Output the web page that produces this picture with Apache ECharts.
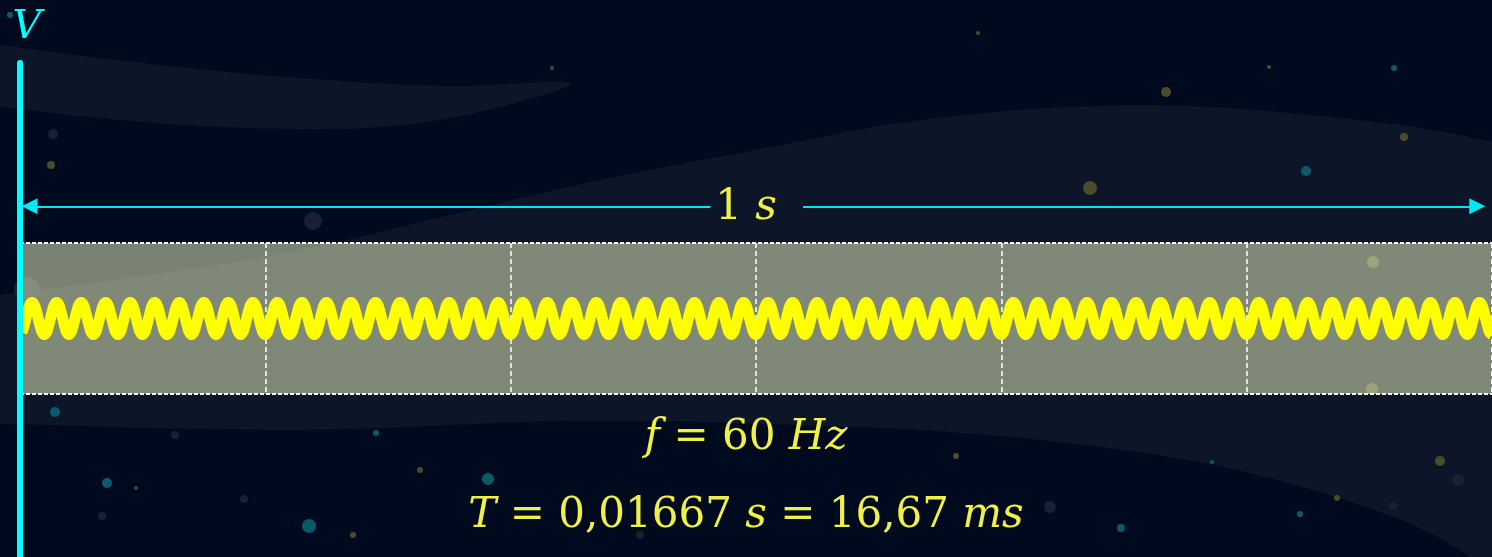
<!DOCTYPE html>
<html>
<head>
<meta charset="utf-8">
<script src="https://cdn.jsdelivr.net/npm/echarts@6.0.0/dist/echarts.min.js"></script>
<style>
  html, body { margin: 0; padding: 0; background: #000a1f; }
  #chart { width: 1492px; height: 557px; }
</style>
</head>
<body>
<div id="chart"></div>
<script>
// signal
const frequency = 60;          // Hz
const duration = 1;            // s shown on the time axis
const divisions = 6;           // dashed columns in the band
const firstCrest = 0.0082;     // s, first crest of the trace
const amplitude = 0.85;        // band runs from -4 to 4
const bandRange = [-4, 4];
// one period of the trace, crest first (12 samples)
const cycleShape = [1, 0.87, 0.5, 0, -0.5, -0.87, -1, -0.87, -0.5, 0, 0.5, 0.87];

// "1 s" arrow, split around its label
const arrowLeft = [0.0065, 0.469];
const arrowRight = [0.532, 0.990];
const arrowLevel = 71;         // % of the V axis height

const labelSpan = "{n|1} {i|s}";
const labelFreq = "{i|f} {n|=} {n|60} {i|Hz}";
const labelPeriod = "{i|T} {n|=} {n|0,01667} {i|s} {n|=} {n|16,67} {i|ms}";

// background decoration
const swooshTop = [[-40, 40], [0, 45], [150, 64], [300, 78], [450, 86], [571, 83],
  [480, 112], [380, 127], [250, 128], [120, 120], [0, 107], [-40, 104]];
const swooshBig = [[-60, 305], [0, 295], [150, 275], [300, 250], [450, 215], [600, 180],
  [761, 149], [900, 123], [1050, 108], [1189, 106], [1320, 116], [1420, 128], [1492, 142],
  [1600, 170], [1620, 640], [1520, 600], [1460, 550], [1380, 512], [1237, 470], [1100, 447],
  [950, 432], [800, 425], [571, 421], [300, 430], [0, 424], [-60, 424]];
const stars = [
  [1090, 188, 7, "o"], [1166, 92, 5, "o"], [1306, 171, 5, "t"], [1404, 137, 4, "o"],
  [1394, 68, 3, "t"], [1269, 67, 2, "o"], [978, 33, 2, "o"], [552, 68, 2, "o"],
  [53, 134, 5, "g"], [51, 165, 4, "o"], [313, 221, 9, "g"], [10, 15, 3, "t"],
  [55, 412, 5, "t"], [107, 483, 5, "t"], [136, 488, 2, "o"], [309, 526, 7, "t"],
  [353, 535, 3, "o"], [376, 433, 3, "t"], [102, 516, 4, "g"], [175, 435, 4, "g"],
  [244, 499, 4, "g"], [488, 479, 6, "t"], [420, 470, 3, "o"], [1440, 461, 5, "o"],
  [1458, 480, 6, "g"], [1121, 528, 4, "t"], [1337, 498, 3, "o"], [1212, 462, 2, "t"],
  [956, 456, 3, "o"], [1393, 506, 4, "g"], [1300, 514, 3, "t"], [1050, 507, 6, "g"],
  [640, 535, 4, "g"], [1373, 262, 6, "o"], [1372, 389, 6, "o"], [27, 290, 13, "g"],
];
const starColors = { o: "#4a4c2c", t: "#0b5a6a", g: "#182036" };

// build trace from the cycle shape
var wave = [];
for (var k = -1; k <= frequency; k++) {
  for (var j = 0; j < cycleShape.length; j++) {
    var t = firstCrest + (k + j / cycleShape.length) / frequency;
    if (t < 0 || t > duration) continue;
    wave.push([t, amplitude * cycleShape[j]]);
  }
}

var chart = echarts.init(document.getElementById("chart"));

var font = { fontFamily: "DejaVu Serif", fontSize: 42, fontWeight: "normal", color: "#f0f046", lineHeight: 46 };
var mathText = {
  n: Object.assign({}, font),
  i: Object.assign({ fontStyle: "italic" }, font),
};
var plainStyle = Object.assign({ rich: mathText }, font);

var decor = [
  { type: "polygon", z: -10, silent: true, shape: { points: swooshTop, smooth: 0.35 }, style: { fill: "#0d1628" } },
  { type: "polygon", z: -10, silent: true, shape: { points: swooshBig, smooth: 0.35 }, style: { fill: "#0d1628" } },
];
stars.forEach(function(s) {
  decor.push({
    type: "circle", z: -9, silent: true,
    shape: { cx: s[0], cy: s[1], r: s[2] },
    style: { fill: starColors[s[3]] },
  });
});

var option = {
  animation: false,
  backgroundColor: "#000a1f",
  graphic: { elements: decor },
  title: [
    { text: labelSpan, left: "center", top: 180, textStyle: plainStyle },
    { text: labelFreq, left: "center", top: 410, textStyle: plainStyle },
    { text: labelPeriod, left: "center", top: 488, textStyle: plainStyle },
  ],
  grid: [
    { left: 20, right: 0, top: 243, bottom: 163 },
    { left: 20, right: 0, top: 63, bottom: 0 },
  ],
  xAxis: [
    {
      gridIndex: 0, type: "value", min: 0, max: duration, interval: duration / divisions,
      axisLine: { show: false }, axisTick: { show: false }, axisLabel: { show: false },
      splitLine: { show: true, lineStyle: { color: "#ffffff", width: 1.5, type: [5, 3] } },
    },
    { gridIndex: 1, type: "value", min: 0, max: duration, show: false },
  ],
  yAxis: [
    {
      gridIndex: 0, type: "value", min: bandRange[0], max: bandRange[1], interval: bandRange[1] - bandRange[0],
      axisLine: { show: false }, axisTick: { show: false }, axisLabel: { show: false },
      splitLine: { show: true, lineStyle: { color: "#ffffff", width: 2, type: [4, 2] } },
      splitArea: { show: true, areaStyle: { color: ["rgba(244,249,200,0.5)"] } },
    },
    {
      gridIndex: 1, type: "value", min: 0, max: 100, z: 5,
      name: "V", nameLocation: "end", nameGap: 15,
      nameTextStyle: {
        color: "#00ffff", fontFamily: "DejaVu Serif", fontStyle: "italic", fontSize: 40,
        padding: [0, 0, 0, 14],
      },
      axisLine: { show: true, lineStyle: { color: "#00ffff", width: 6 } },
      axisTick: { show: false }, axisLabel: { show: false }, splitLine: { show: false },
    },
  ],
  series: [
    {
      type: "line",
      xAxisIndex: 0, yAxisIndex: 0,
      data: wave,
      showSymbol: false,
      smooth: true,
      lineStyle: { color: "#ffff00", width: 11, cap: "butt" },
      z: 3,
    },
    {
      type: "line",
      xAxisIndex: 1, yAxisIndex: 1,
      data: [],
      markLine: {
        silent: true,
        symbolSize: [16, 16],
        label: { show: false },
        lineStyle: { color: "#00e8f0", width: 2, type: "solid" },
        data: [
          [
            { coord: [arrowLeft[0], arrowLevel], symbol: "triangle" },
            { coord: [arrowLeft[1], arrowLevel], symbol: "none" },
          ],
          [
            { coord: [arrowRight[0], arrowLevel], symbol: "none" },
            { coord: [arrowRight[1], arrowLevel], symbol: "triangle" },
          ],
        ],
      },
    },
  ],
};

chart.setOption(option);
</script>
</body>
</html>
